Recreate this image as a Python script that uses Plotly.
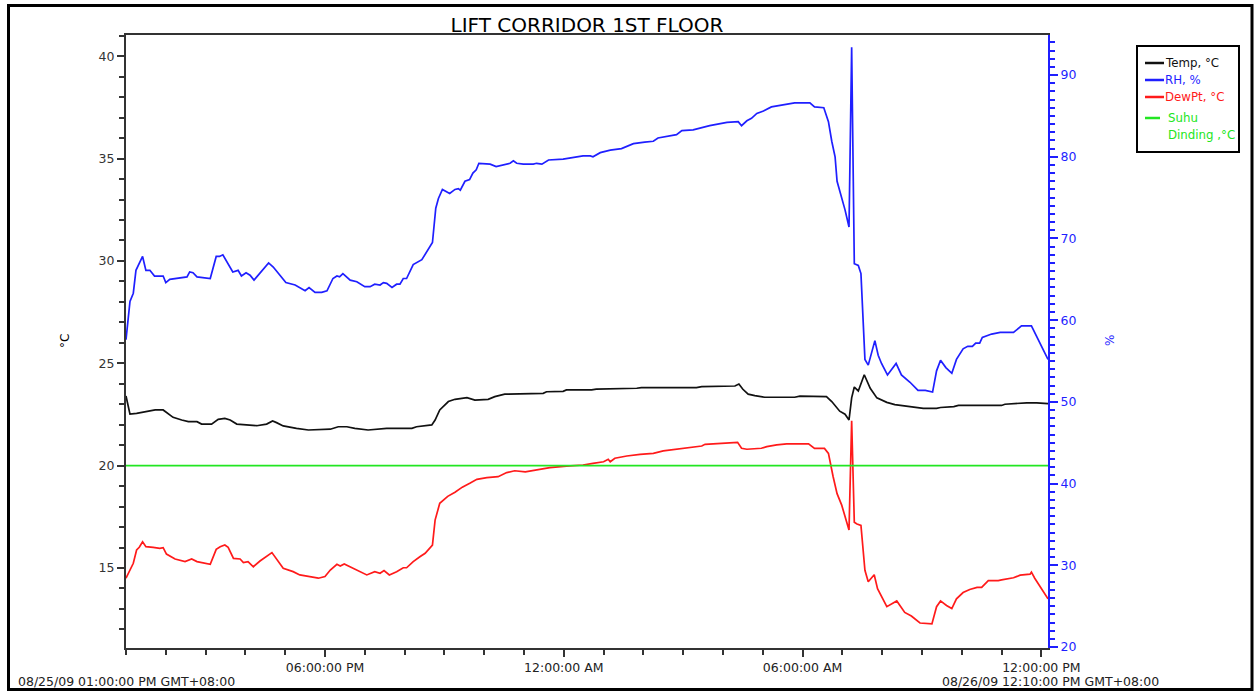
import plotly.graph_objects as go
from datetime import datetime, timedelta

# ---------------- data ----------------
START = datetime(2009, 8, 25, 13, 0)
END = datetime(2009, 8, 26, 12, 10)

# minutes elapsed since 08/25/09 01:00 PM
rh_min = [0, 6, 11, 15, 25, 30, 36, 43, 56, 60, 66, 92, 96, 101, 107, 127, 136, 141, 146, 152,
          161, 169, 174, 181, 187, 193, 202, 215, 222, 241, 255, 270, 276, 285, 295, 303, 312, 318,
          322, 327, 338, 348, 360, 368, 375, 383, 388, 393, 401, 408, 413, 418, 423, 433, 446, 451,
          462, 467, 471, 477, 482, 488, 496, 501, 504, 511, 518, 523, 528, 532, 549, 558, 579, 584,
          589, 599, 614, 619, 627, 637, 659, 674, 689, 700, 704, 715, 730, 747, 760, 765, 782, 795,
          802, 815, 830, 838, 851, 855, 880, 896, 906, 923, 928, 936, 943, 951, 961, 973, 985, 996,
          1008, 1031, 1038, 1052, 1059, 1064, 1069, 1072, 1079, 1084, 1090, 1094, 1098, 1104, 1108,
          1114, 1119, 1129, 1134, 1139, 1148, 1161, 1169, 1182, 1194, 1205, 1216, 1222, 1228, 1236,
          1245, 1252, 1262, 1269, 1276, 1281, 1287, 1291, 1305, 1318, 1338, 1350, 1365, 1378, 1390]
rh_val = [57.6, 62.3, 63.3, 66.1, 67.8, 66.1, 66.1, 65.4, 65.4, 64.6, 65.0, 65.3, 65.9, 65.8, 65.3,
          65.1, 67.8, 67.8, 68.0, 67.2, 65.9, 66.1, 65.4, 65.8, 65.5, 64.9, 65.8, 67.0, 66.5, 64.6,
          64.3, 63.6, 64.0, 63.4, 63.4, 63.6, 65.1, 65.4, 65.3, 65.7, 64.9, 64.7, 64.1, 64.1, 64.4,
          64.3, 64.6, 64.5, 64.0, 64.4, 64.4, 65.1, 65.1, 66.8, 67.4, 68.1, 69.5, 73.7, 74.9, 76.0,
          75.8, 75.5, 76.0, 76.1, 75.9, 77.0, 77.2, 78.0, 78.4, 79.2, 79.1, 78.8, 79.2, 79.5, 79.2,
          79.1, 79.1, 79.2, 79.1, 79.6, 79.7, 79.9, 80.1, 80.1, 80.0, 80.5, 80.8, 81.0, 81.4, 81.6,
          81.8, 81.9, 82.3, 82.5, 82.7, 83.2, 83.3, 83.3, 83.8, 84.0, 84.2, 84.3, 83.8, 84.4, 84.7,
          85.3, 85.6, 86.1, 86.3, 86.4, 86.6, 86.6, 86.1, 86.0, 84.3, 81.9, 80.0, 77.0, 75.1, 73.5,
          71.4, 93.4, 66.9, 66.7, 65.7, 55.2, 54.5, 57.5, 55.7, 54.7, 53.3, 54.7, 53.3, 52.4, 51.4,
          51.4, 51.2, 53.8, 55.1, 54.2, 53.5, 55.2, 56.5, 56.8, 56.8, 57.2, 57.2, 57.9, 58.3, 58.5,
          58.5, 59.3, 59.3, 57.1, 55.2]

temp_min = [0, 6, 16, 29, 44, 56, 71, 84, 94, 107, 114, 129, 139, 149, 157, 167, 182, 197, 212,
            221, 227, 237, 257, 275, 308, 320, 333, 345, 365, 385, 393, 431, 438, 461, 466, 473,
            486, 496, 514, 526, 546, 556, 571, 629, 634, 659, 664, 702, 709, 770, 777, 860, 868,
            918, 924, 930, 938, 948, 963, 1008, 1016, 1056, 1064, 1076, 1084, 1090, 1094, 1098,
            1104, 1113, 1122, 1132, 1147, 1159, 1182, 1202, 1222, 1228, 1248, 1255, 1320, 1325,
            1358, 1373, 1390]
temp_val = [23.4, 22.52, 22.55, 22.64, 22.72, 22.72, 22.36, 22.23, 22.15, 22.15, 22.03, 22.03,
            22.26, 22.31, 22.23, 22.03, 21.99, 21.95, 22.03, 22.18, 22.1, 21.94, 21.82, 21.74,
            21.78, 21.9, 21.9, 21.82, 21.74, 21.78, 21.82, 21.82, 21.9, 21.99, 22.23, 22.72,
            23.13, 23.24, 23.32, 23.2, 23.24, 23.37, 23.49, 23.53, 23.61, 23.63, 23.7, 23.7,
            23.74, 23.78, 23.81, 23.81, 23.86, 23.89, 23.99, 23.73, 23.49, 23.42, 23.34, 23.34,
            23.4, 23.37, 23.13, 22.66, 22.51, 22.23, 23.31, 23.84, 23.65, 24.44, 23.78, 23.31,
            23.09, 22.98, 22.9, 22.8, 22.8, 22.84, 22.88, 22.94, 22.94, 23.0, 23.07, 23.07, 23.03]

dew_min = [0, 6, 11, 16, 20, 25, 30, 41, 51, 56, 61, 74, 89, 99, 107, 127, 136, 142, 149, 154,
           162, 172, 177, 184, 192, 202, 220, 237, 252, 262, 275, 290, 300, 308, 318, 323, 329,
           343, 363, 375, 383, 389, 397, 408, 418, 423, 433, 443, 451, 462, 466, 473, 485, 496,
           507, 519, 529, 544, 561, 574, 586, 602, 619, 639, 664, 689, 704, 720, 727, 730, 737,
           755, 775, 795, 810, 830, 850, 868, 873, 894, 914, 922, 928, 936, 958, 966, 981, 996,
           1029, 1038, 1053, 1059, 1066, 1072, 1079, 1090, 1094, 1098, 1102, 1108, 1114, 1119,
           1128, 1133, 1147, 1162, 1174, 1184, 1197, 1215, 1222, 1228, 1237, 1245, 1252, 1262,
           1272, 1283, 1290, 1300, 1315, 1320, 1338, 1348, 1363, 1365, 1370, 1390]
dew_val = [14.5, 14.9, 15.23, 15.88, 16.01, 16.28, 16.04, 16.01, 15.96, 15.99, 15.68, 15.44,
           15.31, 15.44, 15.31, 15.18, 15.91, 16.04, 16.12, 16.01, 15.47, 15.44, 15.26, 15.31,
           15.06, 15.34, 15.75, 14.99, 14.82, 14.66, 14.58, 14.5, 14.58, 14.9, 15.18, 15.1, 15.2,
           14.99, 14.66, 14.82, 14.74, 14.87, 14.66, 14.82, 15.01, 15.01, 15.31, 15.55, 15.72,
           16.12, 17.34, 18.16, 18.5, 18.7, 18.95, 19.15, 19.33, 19.41, 19.46, 19.66, 19.75, 19.7,
           19.79, 19.9, 19.98, 20.03, 20.11, 20.19, 20.31, 20.19, 20.36, 20.47, 20.55, 20.6,
           20.72, 20.8, 20.88, 20.96, 21.04, 21.09, 21.14, 21.14, 20.85, 20.8, 20.85, 20.93,
           21.01, 21.06, 21.06, 20.84, 20.84, 20.6, 19.47, 18.63, 18.07, 16.86, 22.19, 17.23,
           17.15, 17.08, 14.89, 14.33, 14.67, 13.99, 13.11, 13.39, 12.83, 12.65, 12.31, 12.27,
           13.11, 13.39, 13.17, 13.02, 13.49, 13.8, 13.95, 14.05, 14.05, 14.38, 14.38, 14.42,
           14.52, 14.65, 14.7, 14.8, 14.5, 13.49]

wall_min = [0, 1390]
wall_val = [20, 20]

x_tick_vals = ["2009-08-25 18:00", "2009-08-26 00:00", "2009-08-26 06:00", "2009-08-26 12:00"]
x_tick_text = ["06:00:00 PM", "12:00:00 AM", "06:00:00 AM", "12:00:00 PM"]
left_ticks = [15, 20, 25, 30, 35, 40]
right_ticks = [20, 30, 40, 50, 60, 70, 80, 90]

TITLE = "LIFT CORRIDOR 1ST FLOOR"
START_LABEL = "08/25/09 01:00:00 PM GMT+08:00"
END_LABEL = "08/26/09 12:10:00 PM GMT+08:00"
legend_names = ["Temp, °C", "RH, %", "DewPt, °C", "Suhu<br>Dinding ,°C"]

# ---------------- styling ----------------
FONT = "DejaVu Sans"
BLUE = "#1f1fff"
RED = "#ff1a1a"
GREEN = "#22e622"
BLACK = "#111111"
colors = [BLACK, BLUE, RED, GREEN]

def to_time(mins):
    return [START + timedelta(minutes=m) for m in mins]

fig = go.Figure()
fig.add_trace(go.Scatter(x=to_time(temp_min), y=temp_val, mode="lines",
                         name=legend_names[0], line=dict(color=BLACK, width=1.7)))
fig.add_trace(go.Scatter(x=to_time(rh_min), y=rh_val, mode="lines", yaxis="y2",
                         name=legend_names[1], line=dict(color=BLUE, width=1.7)))
fig.add_trace(go.Scatter(x=to_time(dew_min), y=dew_val, mode="lines",
                         name=legend_names[2], line=dict(color=RED, width=1.7)))
fig.add_trace(go.Scatter(x=to_time(wall_min), y=wall_val, mode="lines",
                         name=legend_names[3], line=dict(color=GREEN, width=1.7)))

W, H = 1259, 694
L, R, T, B = 126, 1048, 35, 648

def px(x):
    return (x - L) / (R - L)

def py(y):
    return (B - y) / (B - T)

fig.update_layout(
    width=W, height=H,
    margin=dict(l=L, r=W - R, t=T, b=H - B, autoexpand=False),
    paper_bgcolor="white", plot_bgcolor="white",
    font=dict(family=FONT, size=12, color="#222"),
    showlegend=False,
    title=dict(text=TITLE, x=px((L + R) / 2), xref="paper", xanchor="center",
               y=1 - 25 / H, yanchor="middle",
               font=dict(family=FONT, size=20, color="#000")),
    xaxis=dict(type="date", range=[START, END], showgrid=False, zeroline=False,
               showline=True, linecolor="#333", linewidth=2, mirror=True,
               tickmode="array", tickvals=x_tick_vals, ticktext=x_tick_text,
               ticks="outside", ticklen=7, tickwidth=1.5, tickcolor="#333",
               tickfont=dict(family=FONT, size=12.5, color="#222"),
               minor=dict(dtick=3600000, tick0="2009-08-25 13:00", ticks="outside",
                          ticklen=5, tickwidth=1.5, tickcolor="#333", showgrid=False)),
    yaxis=dict(range=[11.09, 41.04], showgrid=False, zeroline=False,
               showline=True, linecolor="#333", linewidth=2,
               tickmode="array", tickvals=left_ticks,
               ticks="outside", ticklen=7, tickwidth=1.5, tickcolor="#333",
               tickfont=dict(family=FONT, size=12.5, color="#333"),
               minor=dict(dtick=1, tick0=0, ticks="outside", ticklen=5,
                          tickwidth=1.5, tickcolor="#333", showgrid=False)),
    yaxis2=dict(range=[19.88, 94.9], overlaying="y", side="right", anchor="x",
                showgrid=False, zeroline=False,
                showline=True, linecolor=BLUE, linewidth=2,
                tickmode="array", tickvals=right_ticks,
                ticks="outside", ticklen=8, tickwidth=1.5, tickcolor=BLUE,
                tickfont=dict(family=FONT, size=12.5, color=BLUE),
                minor=dict(dtick=1, tick0=0, ticks="outside", ticklen=5,
                           tickwidth=1.5, tickcolor=BLUE, showgrid=False)),
)

# outer frame
fig.add_shape(type="rect", xref="paper", yref="paper",
              x0=px(8.5), x1=px(1252), y0=py(689.5), y1=py(5.5),
              line=dict(color="#000", width=3), fillcolor="rgba(0,0,0,0)", layer="above")

# legend box (drawn manually to match the compact original legend)
fig.add_shape(type="rect", xref="paper", yref="paper",
              x0=px(1137), x1=px(1239), y0=py(152), y1=py(46),
              line=dict(color="#000", width=2), fillcolor="white", layer="above")
legend_rows_y = [63, 80, 97, 118]
legend_line_x = [(1145, 1164), (1145, 1164), (1145, 1164), (1145, 1160)]
legend_text_x = [1164, 1164, 1164, 1167]
LINE_GAP = 17
for name, col, ly, (lx0, lx1), tx in zip(legend_names, colors, legend_rows_y,
                                         legend_line_x, legend_text_x):
    fig.add_shape(type="line", xref="paper", yref="paper",
                  x0=px(lx0), x1=px(lx1), y0=py(ly), y1=py(ly),
                  line=dict(color=col, width=2.5), layer="above")
    for k, part in enumerate(name.split("<br>")):
        fig.add_annotation(text=part, xref="paper", yref="paper", x=px(tx),
                           y=py(ly + k * LINE_GAP), showarrow=False,
                           xanchor="left", yanchor="middle", borderpad=0,
                           font=dict(family=FONT, size=11.8, color=col))

# axis titles and date labels
fig.add_annotation(text="°C", xref="paper", yref="paper", x=px(65), y=py(341),
                   textangle=-90, showarrow=False, xanchor="center", yanchor="middle",
                   font=dict(family=FONT, size=12, color="#000"))
fig.add_annotation(text="%", xref="paper", yref="paper", x=px(1110), y=py(341),
                   textangle=-90, showarrow=False, xanchor="center", yanchor="middle",
                   font=dict(family=FONT, size=12, color=BLUE))
fig.add_annotation(text=START_LABEL, xref="paper", yref="paper", x=px(16), y=py(681),
                   showarrow=False, xanchor="left", yanchor="middle",
                   font=dict(family=FONT, size=12.5, color="#222"))
fig.add_annotation(text=END_LABEL, xref="paper", yref="paper", x=px(1161), y=py(681),
                   showarrow=False, xanchor="right", yanchor="middle",
                   font=dict(family=FONT, size=12.5, color="#222"))

fig.write_html("out.html", config={"displayModeBar": False},
               post_script="document.body.style.margin='0';document.body.style.overflow='hidden';")
